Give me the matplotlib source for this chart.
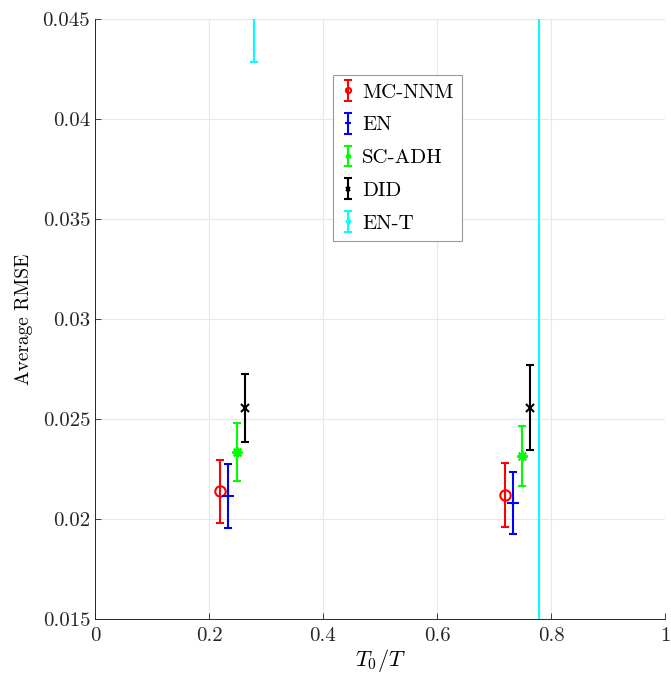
import matplotlib
matplotlib.use("Agg")
import matplotlib.pyplot as plt
from matplotlib.ticker import FixedLocator, FuncFormatter

plt.rcParams['font.family'] = ['cmr10', 'DejaVu Serif']
plt.rcParams['mathtext.fontset'] = 'cm'
plt.rcParams['axes.unicode_minus'] = False
plt.rcParams['axes.formatter.use_mathtext'] = True

# T0/T positions of each method (offset around the 0.2 and 0.7 groups)
methods = ["MC-NNM", "EN", "SC-ADH", "DID", "EN-T"]
x_pos = {
    "MC-NNM": [0.219, 0.719],
    "EN": [0.234, 0.734],
    "SC-ADH": [0.249, 0.749],
    "DID": [0.264, 0.764],
    "EN-T": [0.279, 0.779],
}
# Average RMSE and error bar half-widths
rmse = {
    "MC-NNM": [0.02138, 0.02120],
    "EN": [0.02115, 0.02080],
    "SC-ADH": [0.02336, 0.02316],
    "DID": [0.02555, 0.02557],
    "EN-T": [0.0560, 0.0550],
}
err = {
    "MC-NNM": [0.00157, 0.00158],
    "EN": [0.00159, 0.00155],
    "SC-ADH": [0.00146, 0.00150],
    "DID": [0.00169, 0.00212],
    "EN-T": [0.01315, 0.0450],
}
colours = {"MC-NNM": "#ff0000", "EN": "#0000ff", "SC-ADH": "#00ff00",
           "DID": "#000000", "EN-T": "#00ffff"}
# MATLAB-like markers: circle, plus, asterisk, cross, diamond
markers = {"MC-NNM": "o", "EN": "+", "SC-ADH": (8, 2, 0), "DID": "x", "EN-T": "d"}
msizes = {"MC-NNM": 7.5, "EN": 9, "SC-ADH": 7.5, "DID": 5.5, "EN-T": 6}

fig = plt.figure(figsize=(6.71, 6.77), dpi=100)
ax = fig.add_axes([0.1416, 0.0857, 0.8494, 0.8862])

for m in methods:
    ax.errorbar(x_pos[m], rmse[m], yerr=err[m], marker=markers[m], linestyle='none',
                color=colours[m], ecolor=colours[m], elinewidth=1.5,
                capsize=3.2, capthick=1.5, markersize=msizes[m],
                markerfacecolor='none' if m == "MC-NNM" else colours[m],
                markeredgewidth=1.5, label=m)

ax.set_xlim(0, 1)
ax.set_ylim(0.015, 0.045)
ax.xaxis.set_major_locator(FixedLocator([0, 0.2, 0.4, 0.6, 0.8, 1.0]))
ax.yaxis.set_major_locator(FixedLocator([0.015, 0.02, 0.025, 0.03, 0.035, 0.04, 0.045]))
ax.xaxis.set_major_formatter(FuncFormatter(lambda v, p: "%g" % round(v, 4)))
ax.yaxis.set_major_formatter(FuncFormatter(lambda v, p: "%g" % round(v, 4)))
ax.tick_params(direction='in', length=4, width=0.6, colors='#262626', labelsize=15,
               labelcolor='#262626')
ax.tick_params(axis='x', pad=6)

ax.grid(True, color='#e8e8e8', linewidth=0.8)
ax.set_axisbelow(True)
for side in ['top', 'right']:
    ax.spines[side].set_visible(False)
for side in ['left', 'bottom']:
    ax.spines[side].set_color('#262626')
    ax.spines[side].set_linewidth(0.7)

ax.set_xlabel("$T_0/T$", fontsize=16, labelpad=1)
ax.set_ylabel("Average RMSE", fontsize=14, labelpad=7)

leg = ax.legend(loc='upper left', bbox_to_anchor=(0.4175, 0.907), borderaxespad=0,
                fontsize=15, fancybox=False, framealpha=1, edgecolor='#999999',
                handlelength=0.6, handletextpad=0.4, labelspacing=0.68,
                markerscale=0.5, borderpad=0.4)
leg.get_frame().set_linewidth(0.8)

fig.savefig("out.png", dpi=100)
